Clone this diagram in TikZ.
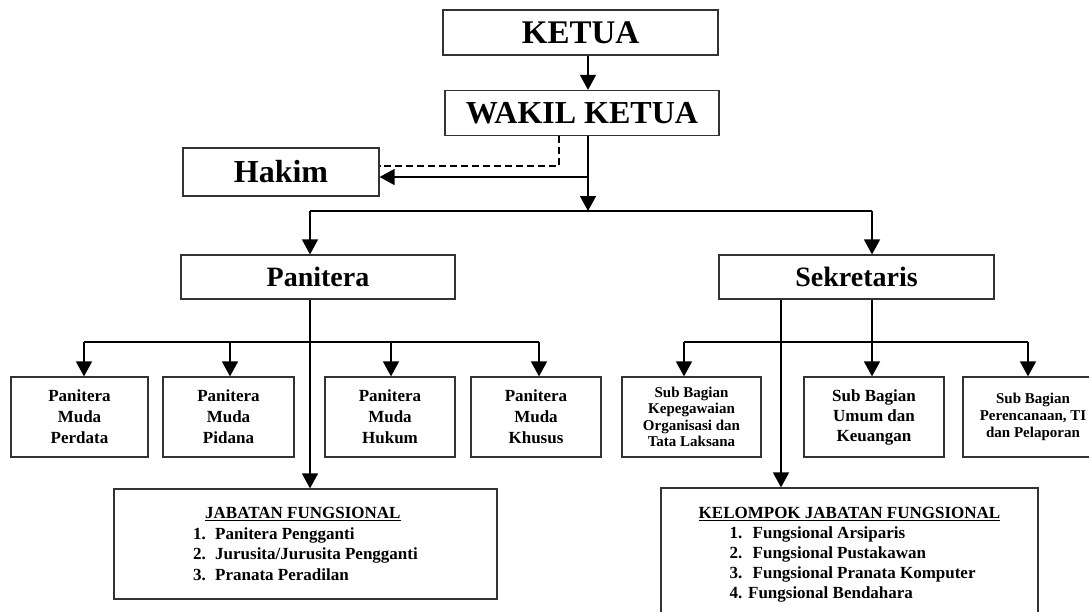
\documentclass[tikz,border=0pt]{standalone}
\usepackage{fontspec}
\setmainfont{Liberation Serif}
\usetikzlibrary{arrows.meta}
\newcommand{\fsz}[2]{\fontsize{#1}{#2}\selectfont}
\tikzset{
  box/.style={draw=black!80, line width=1.2pt, rectangle, inner sep=0pt, align=center},
  ln/.style={black, line width=1.4pt},
  arr/.style={ln, -{Triangle[length=15pt,width=16pt]}},
}
\begin{document}
\begin{tikzpicture}[x=1pt,y=-1pt]
	\useasboundingbox (0,0) rectangle (1089,611);
	\node [box, minimum width=275pt, minimum height=45pt, font=\bfseries\fsz{33}{36}] (ketua) at (580.5,32.5) {KETUA};
	\node [box, minimum width=274pt, minimum height=45pt, font=\bfseries\fsz{32}{36}] (wakil) at (582,113) {WAKIL KETUA};
	\node [box, minimum width=196pt, minimum height=48pt, font=\bfseries\fsz{32}{36}] (hakim) at (281,172) {Hakim};
	\node [box, minimum width=274pt, minimum height=44pt, font=\bfseries\fsz{28}{32}] (panitera) at (318,277) {Panitera};
	\node [box, minimum width=275pt, minimum height=44pt, font=\bfseries\fsz{28}{32}] (sekretaris) at (856.5,277) {Sekretaris};
	\node [box, minimum width=137pt, minimum height=80pt, font=\bfseries\fsz{17}{21}] (pmperdata) at (79.5,417) {Panitera\\Muda\\Perdata};
	\node [box, minimum width=131pt, minimum height=80pt, font=\bfseries\fsz{17}{21}] (pmpidana) at (228.5,417) {Panitera\\Muda\\Pidana};
	\node [box, minimum width=130pt, minimum height=80pt, font=\bfseries\fsz{17}{21}] (pmhukum) at (390,417) {Panitera\\Muda\\Hukum};
	\node [box, minimum width=130pt, minimum height=80pt, font=\bfseries\fsz{17}{21}] (pmkhusus) at (536,417) {Panitera\\Muda\\Khusus};
	\node [box, minimum width=139pt, minimum height=80pt, font=\bfseries\fsz{15}{16.3}] (kepeg) at (691.5,417) {Sub Bagian\\Kepegawaian\\Organisasi dan\\Tata Laksana};
	\node [box, minimum width=140pt, minimum height=80pt, font=\bfseries\fsz{17}{20}] (umum) at (874,417) {Sub Bagian\\Umum dan\\Keuangan};
	\node [box, minimum width=140pt, minimum height=80pt, font=\bfseries\fsz{15}{17}] (rencana) at (1033,417) {Sub Bagian\\Perencanaan, TI\\dan Pelaporan};
	\node [box, align=left, minimum width=383pt, minimum height=110pt, font=\bfseries\fsz{17}{20.5}] (jabatan) at (305.5,544) {\hspace*{12pt}\underline{JABATAN FUNGSIONAL}\\
		\makebox[22pt][l]{1.}Panitera Pengganti\\
		\makebox[22pt][l]{2.}Jurusita/Jurusita Pengganti\\
		\makebox[22pt][l]{3.}Pranata Peradilan};
	\node [box, align=left, minimum width=377pt, minimum height=134pt, font=\bfseries\fsz{17}{20}] (kelompok) at (849.5,555) {\underline{KELOMPOK JABATAN FUNGSIONAL}\\
		\hspace*{31pt}\makebox[23pt][l]{1.}Fungsional Arsiparis\\
		\hspace*{31pt}\makebox[23pt][l]{2.}Fungsional Pustakawan\\
		\hspace*{31pt}\makebox[23pt][l]{3.}Fungsional Pranata Komputer\\
		\hspace*{31pt}4. Fungsional Bendahara};
	\coordinate (spine) at (588,0);
	\coordinate (dsh) at (559,166);
	\coordinate (hk) at (588,177);
	\coordinate (top) at (588,211);
	\coordinate (pl) at (310,211);
	\coordinate (sr) at (872,211);
	\draw [arr] (ketua.south -| spine) -- (wakil.north -| spine);
	\draw [ln, dash pattern=on 7pt off 4pt] (wakil.south -| dsh) |- (hakim.east |- dsh);
	\draw [arr] (hk) -- (hakim.east |- hk);
	\draw [arr] (wakil.south -| spine) -- (top);
	\draw [ln] (pl) -- (sr);
	\draw [arr] (pl) -- (panitera.north -| pl);
	\draw [arr] (sr) -- (sekretaris.north -| sr);
	\draw [arr] (panitera.south -| pl) -- (jabatan.north -| pl);
	\foreach \n/\x in {pmperdata/84, pmpidana/230, pmhukum/391, pmkhusus/539, kepeg/684, umum/872, rencana/1028}{
		\coordinate (t\n) at (\x,342);
		\draw [arr] (t\n) -- (t\n |- \n.north);
	}
	\draw [ln] (tpmperdata) -- (tpmkhusus);
	\draw [ln] (tkepeg) -- (trencana);
	\draw [ln] (sekretaris.south -| tumum) -- (tumum);
	\coordinate (sbus) at (781,0);
	\draw [arr] (sekretaris.south -| sbus) -- (kelompok.north -| sbus);
\end{tikzpicture}
\end{document}
